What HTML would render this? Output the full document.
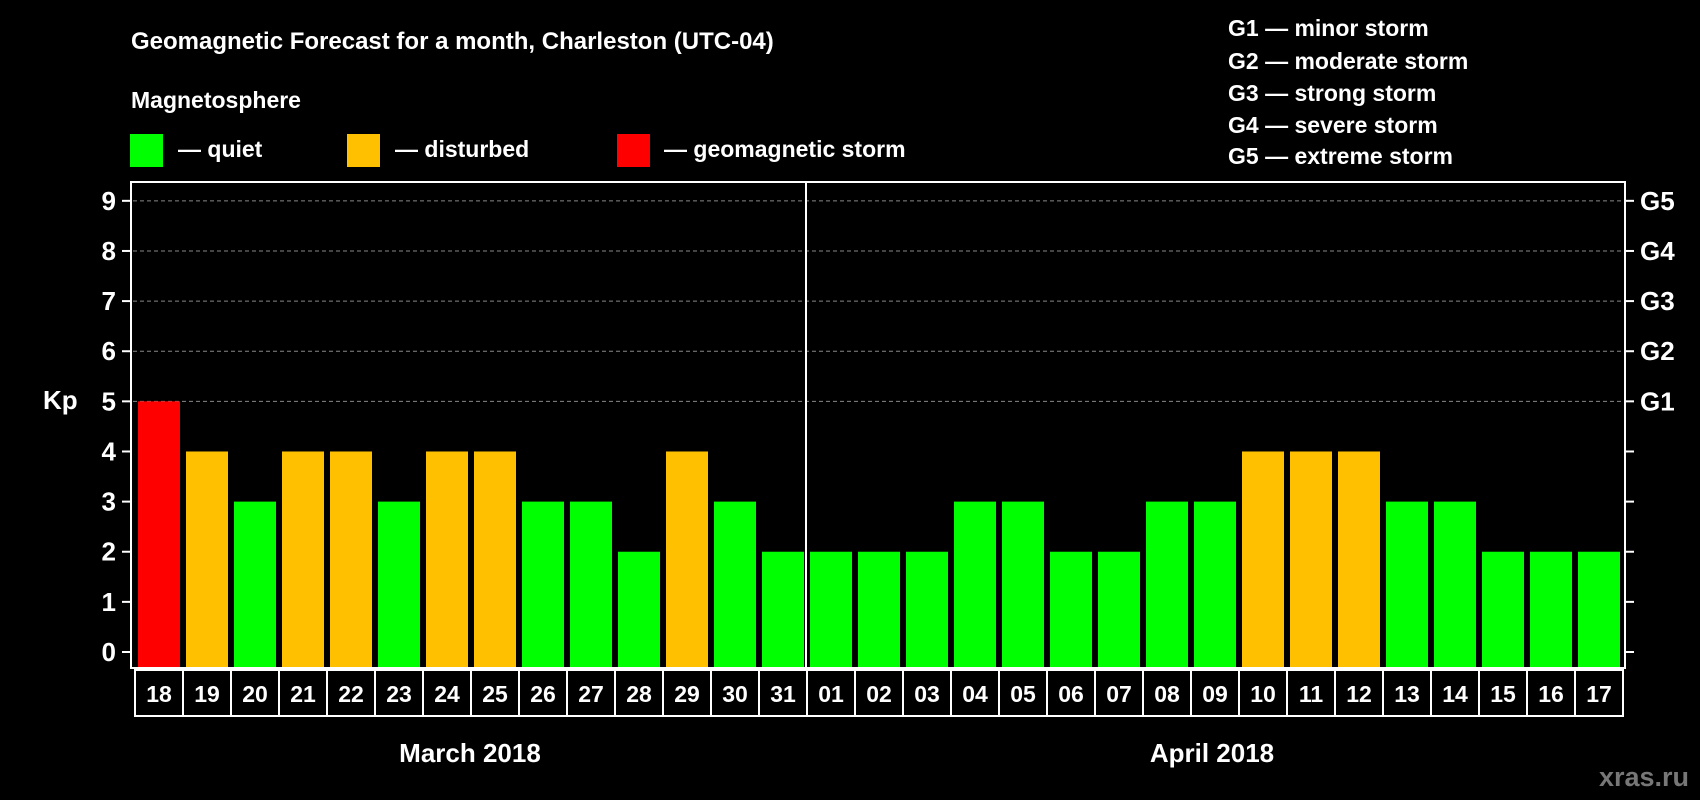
<!DOCTYPE html>
<html><head><meta charset="utf-8"><style>
html,body{margin:0;padding:0;background:#000;}
svg{display:block;font-family:"Liberation Sans",Arial,sans-serif;font-weight:bold;}
</style></head><body>
<svg id="chart" width="1700" height="800" xmlns="http://www.w3.org/2000/svg">
<text x="131" y="49" fill="#fff" font-size="24">Geomagnetic Forecast for a month, Charleston (UTC-04)</text>
<text x="131" y="108" fill="#fff" font-size="23">Magnetosphere</text>
<rect x="130" y="134" width="33" height="33" fill="#00ff00"/>
<text x="178" y="157" fill="#fff" font-size="23">— quiet</text>
<rect x="347" y="134" width="33" height="33" fill="#ffc000"/>
<text x="395" y="157" fill="#fff" font-size="23">— disturbed</text>
<rect x="617" y="134" width="33" height="33" fill="#ff0000"/>
<text x="664" y="157" fill="#fff" font-size="23">— geomagnetic storm</text>
<g fill="#fff" font-size="23">
<text x="1228" y="36">G1 — minor storm</text>
<text x="1228" y="69">G2 — moderate storm</text>
<text x="1228" y="101">G3 — strong storm</text>
<text x="1228" y="133">G4 — severe storm</text>
<text x="1228" y="164">G5 — extreme storm</text>
</g>
<text x="43" y="409" fill="#fff" font-size="26">Kp</text>
<g id="grid"></g><g id="bars"></g><g id="axes"></g>
<rect x="131" y="182" width="1494" height="486" fill="none" stroke="#fff" stroke-width="2"/>
<text x="470" y="762" fill="#fff" font-size="26" text-anchor="middle">March 2018</text>
<text x="1212" y="762" fill="#fff" font-size="26" text-anchor="middle">April 2018</text>
<text x="1689" y="786" fill="#777" font-size="27" text-anchor="end">xras.ru</text>
</svg>
<script>
const days=["18","19","20","21","22","23","24","25","26","27","28","29","30","31","01","02","03","04","05","06","07","08","09","10","11","12","13","14","15","16","17"];
const kp=[5,4,3,4,4,3,4,4,3,3,2,4,3,2,2,2,2,3,3,2,2,3,3,4,4,4,3,3,2,2,2];
const yTicks=["0","1","2","3","4","5","6","7","8","9"];
const gLabels=["G1","G2","G3","G4","G5"];
const NS="http://www.w3.org/2000/svg";
const y=v=>652-v*50.13;
const x=i=>135+i*48;
function mk(t,a,p){const e=document.createElementNS(NS,t);for(const k in a)e.setAttribute(k,a[k]);p.appendChild(e);return e;}
const grid=document.getElementById('grid'),bars=document.getElementById('bars'),axes=document.getElementById('axes');
yTicks.forEach((t,i)=>{
  const v=+t;
  if(v>=5){const g=mk('line',{x1:133,x2:1623,y1:y(v),y2:y(v),stroke:'#888','stroke-dasharray':'4,3','stroke-width':1},grid);
  
  }
  mk('line',{x1:122,x2:131,y1:y(v),y2:y(v),stroke:'#fff','stroke-width':2},axes);
  mk('line',{x1:1625,x2:1634,y1:y(v),y2:y(v),stroke:'#fff','stroke-width':2},axes);
  const lb=mk('text',{x:116,y:y(v)+9,fill:'#fff','font-size':26,'text-anchor':'end'},axes);
  lb.textContent=t;
  
  
});
gLabels.forEach((t,i)=>{
  const lb=mk('text',{x:1640,y:y(i+5)+9,fill:'#fff','font-size':26},axes);
  lb.textContent=t;
  
  
});
kp.forEach((v,i)=>{
  const c=v>=5?'#ff0000':v>=4?'#ffc000':'#00ff00';
  const r=mk('rect',{x:x(i)+3,y:y(v),width:42,height:652-y(v)+16,fill:c},bars);
  
  
  const b=mk('rect',{x:x(i),y:670,width:48,height:46,fill:'none',stroke:'#fff','stroke-width':2},axes);
  
  
  const t=mk('text',{x:x(i)+24,y:702,fill:'#fff','font-size':23,'text-anchor':'middle'},axes);
  t.textContent=days[i];
  
  
});
const sep=mk('line',{x1:x(14)-1,x2:x(14)-1,y1:182,y2:668,stroke:'#fff','stroke-width':2},axes);


</script>
</body></html>
